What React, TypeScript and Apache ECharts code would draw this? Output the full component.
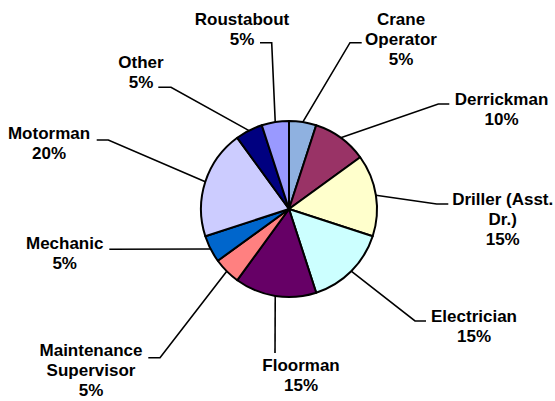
import React, { useEffect, useRef } from "react";
import * as echarts from "echarts";

const categories = [
  "Crane\nOperator",
  "Derrickman",
  "Driller (Asst.\nDr.)",
  "Electrician",
  "Floorman",
  "Maintenance\nSupervisor",
  "Mechanic",
  "Motorman",
  "Other",
  "Roustabout",
];
const shares = [5, 10, 15, 15, 15, 5, 5, 20, 5, 5];
const sliceColors = [
  "#8FB1E0",
  "#993366",
  "#FFFFCC",
  "#CCFFFF",
  "#660066",
  "#FF8080",
  "#0066CC",
  "#CCCCFF",
  "#000080",
  "#9999FF",
];
// label placement: [textX, textY, elbowX, elbowY, endX, endY]
const labelSpots = [
  [401, 39, 350, 42.7, 361.7, 42.7],
  [501.5, 109, 438.3, 104, 449.3, 104],
  [502.7, 219, 436.7, 204, 448.3, 204],
  [474, 326, 415, 321, 426, 321],
  [301, 375, 275, 353, 275, 353],
  [91, 370.5, 160, 357.7, 148.3, 357.7],
  [64.7, 253, 109.3, 249.3, 109.3, 249.3],
  [49, 143.5, 108.3, 140, 96.7, 140],
  [141, 72, 171, 87.3, 158.3, 87.3],
  [242, 29, 271.7, 42.7, 260, 42.7],
];

export default function App() {
  const ref = useRef<HTMLDivElement>(null);
  useEffect(() => {
    document.body.style.margin = "0";
    const chart = echarts.init(ref.current!, null, { renderer: "svg" });
    chart.setOption({
      animation: false,
      backgroundColor: "#ffffff",
      series: [
        {
          type: "pie",
          center: [289, 209],
          radius: 88,
          startAngle: 90,
          clockwise: true,
          avoidLabelOverlap: false,
          data: categories.map((n, i) => ({
            name: n,
            value: shares[i],
            itemStyle: { color: sliceColors[i] },
          })),
          itemStyle: { borderColor: "#000", borderWidth: 2 },
          label: {
            show: true,
            position: "outside",
            formatter: "{b}\n{d}%",
            fontFamily: "'Liberation Sans', Arial, sans-serif",
            fontWeight: "bold",
            fontSize: 17,
            lineHeight: 20,
            color: "#000",
            align: "center",
          },
          labelLine: {
            show: true,
            length: 10,
            length2: 10,
            lineStyle: { color: "#000", width: 1.6 },
          },
          labelLayout: (p: any) => {
            const s = labelSpots[p.dataIndex];
            const p0 =
              p.labelLinePoints && p.labelLinePoints[0]
                ? p.labelLinePoints[0]
                : [s[2], s[3]];
            return {
              x: s[0],
              y: s[1],
              align: "center",
              verticalAlign: "middle",
              labelLinePoints: [p0, [s[2], s[3]], [s[4], s[5]]],
            };
          },
          emphasis: { disabled: true },
        },
      ],
    });
    return () => chart.dispose();
  }, []);
  return <div ref={ref} style={{ width: 555, height: 401 }} />;
}
